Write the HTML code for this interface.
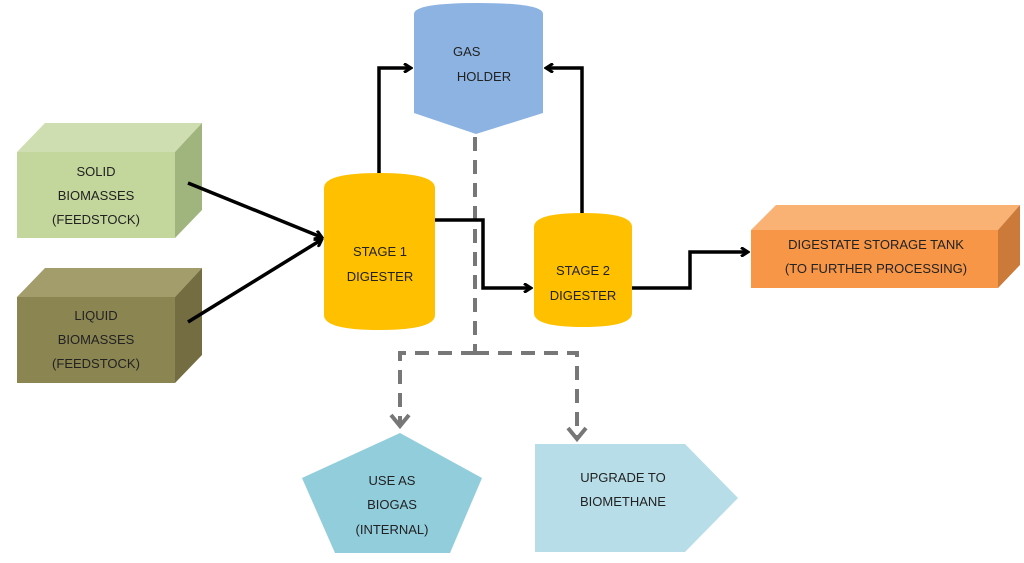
<!DOCTYPE html>
<html><head><meta charset="utf-8"><style>
html,body{margin:0;padding:0;background:#fff;}
svg{display:block;}
text{font-family:"Liberation Sans",sans-serif;font-size:13px;fill:#222;text-anchor:middle;}
</style></head><body>
<svg width="1024" height="563" viewBox="0 0 1024 563" xmlns="http://www.w3.org/2000/svg">
<defs>
<marker id="a" markerWidth="10" markerHeight="10" refX="7" refY="5" orient="auto" markerUnits="userSpaceOnUse"><path d="M1,0.5 L8,5 L1,9.5" fill="none" stroke="#000" stroke-width="3"/></marker>
<marker id="g" markerWidth="24" markerHeight="24" refX="12" refY="18" orient="0" markerUnits="userSpaceOnUse"><path d="M3,8 L12,19 L21,8" fill="none" stroke="#777" stroke-width="4"/></marker>
</defs>
<!-- solid box -->
<polygon points="17,152 45,123 202,123 175,152" fill="#cfdeb0"/>
<polygon points="175,152 202,123 202,210 175,238" fill="#a0b47e"/>
<rect x="17" y="152" width="158" height="86" fill="#c3d69b"/>
<text x="96" y="176">SOLID</text><text x="96" y="200">BIOMASSES</text><text x="96" y="224">(FEEDSTOCK)</text>
<!-- liquid box -->
<polygon points="17,297 45,268 202,268 175,297" fill="#a29d6b"/>
<polygon points="175,297 202,268 202,355 175,383" fill="#736d41"/>
<rect x="17" y="297" width="158" height="86" fill="#8b8552"/>
<text x="96" y="320">LIQUID</text><text x="96" y="344">BIOMASSES</text><text x="96" y="368">(FEEDSTOCK)</text>
<!-- gas holder -->
<path d="M414,14 Q414,3 478,3 Q543,3 543,14 L543,113 L476,134 L414,113 Z" fill="#8db3e2"/>
<text x="469" y="56" style="text-anchor:start" dx="-16">GAS</text><text x="484" y="81">HOLDER</text>
<!-- dashed -->
<g stroke="#777" stroke-width="4" fill="none" stroke-dasharray="14,9">
<path d="M475,137 L475,353"/>
<path d="M475,353 L400,353 L400,425" marker-end="url(#g)"/>
<path d="M475,353 L577,353 L577,438" marker-end="url(#g)"/>
</g>
<!-- stage 1 -->
<path d="M324,188 Q324,173 379,173 Q435,173 435,188 L435,315 Q435,330 379,330 Q324,330 324,315 Z" fill="#ffc000"/>
<text x="380" y="256">STAGE 1</text><text x="380" y="281">DIGESTER</text>
<!-- stage 2 -->
<path d="M534,227 Q534,213 583,213 Q632,213 632,227 L632,313 Q632,327 583,327 Q534,327 534,313 Z" fill="#ffc000"/>
<text x="583" y="275">STAGE 2</text><text x="583" y="300">DIGESTER</text>
<!-- digestate -->
<polygon points="751,230 776,205 1020,205 998,230" fill="#f9b174"/>
<polygon points="998,230 1020,205 1020,265 998,288" fill="#cc7a3a"/>
<rect x="751" y="230" width="247" height="58" fill="#f79646"/>
<text x="876" y="249">DIGESTATE STORAGE TANK</text><text x="876" y="273">(TO FURTHER PROCESSING)</text>
<!-- solid arrows -->
<g stroke="#000" stroke-width="3.5" fill="none" marker-end="url(#a)">
<path d="M188,183 L321,237"/>
<path d="M188,322 L321,240"/>
<path d="M379,173 L379,68 L410,68"/>
<path d="M582,213 L582,68 L547,68"/>
<path d="M435,220 L483,220 L483,288 L530,288"/>
<path d="M632,288 L690,288 L690,252 L747,252"/>
</g>
<!-- pentagon -->
<polygon points="400,433 302,478 335,553 450,553 482,478" fill="#92cddc"/>
<text x="392" y="485">USE AS</text><text x="392" y="509">BIOGAS</text><text x="392" y="534">(INTERNAL)</text>
<!-- chevron -->
<polygon points="535,444 685,444 738,498 685,552 535,552" fill="#b7dee8"/>
<text x="623" y="482">UPGRADE TO</text><text x="623" y="506">BIOMETHANE</text>
</svg>
</body></html>
